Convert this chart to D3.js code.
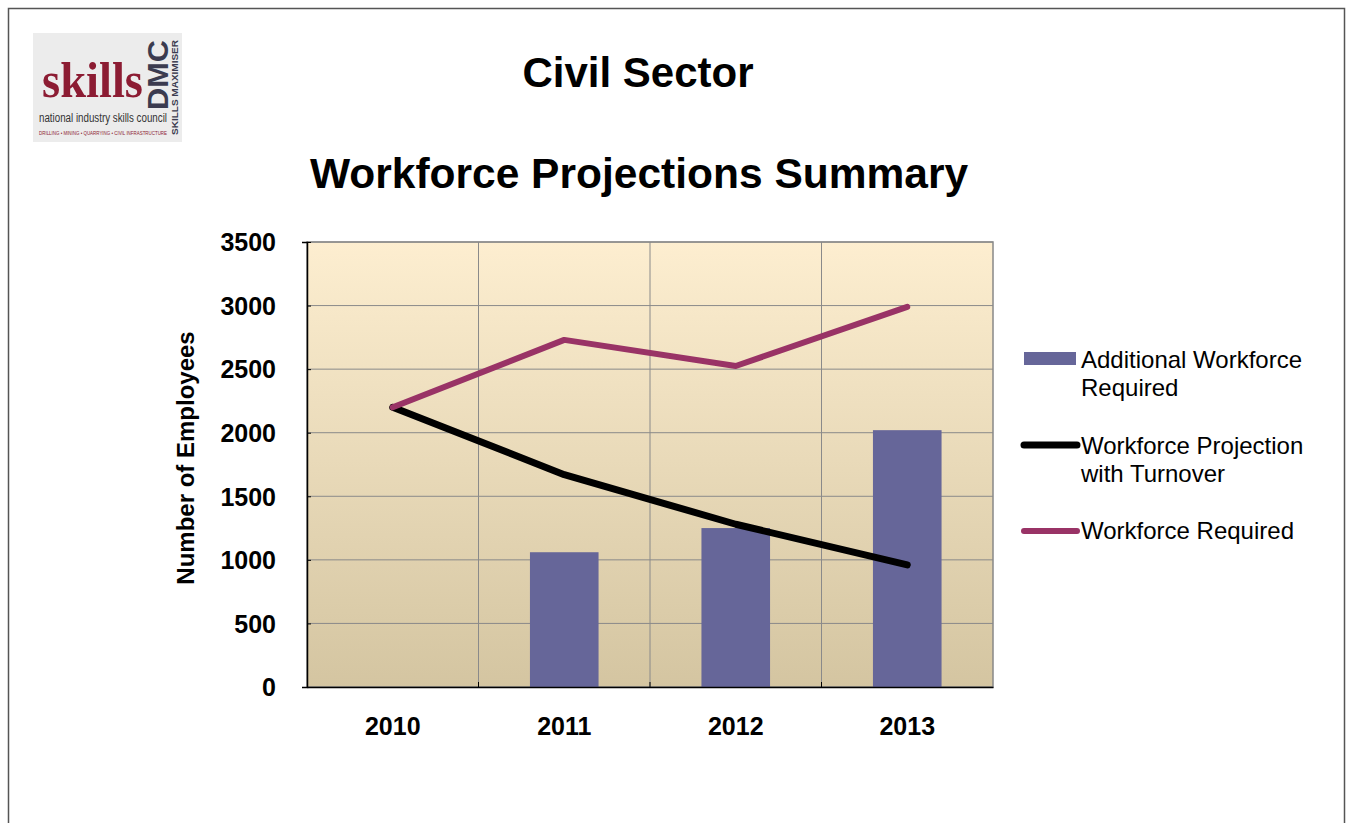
<!DOCTYPE html>
<html><head><meta charset="utf-8">
<script src="https://cdn.jsdelivr.net/npm/d3@7"></script>
<style>body{margin:0;background:#fff;}svg{display:block;font-family:Arial,"Liberation Sans",sans-serif;}</style>
</head><body>
<script>
const categories = ["2010","2011","2012","2013"];
const additionalRequired = [0, 1060, 1250, 2020];
const projectionTurnover = [2200, 1670, 1280, 960];
const workforceRequired = [2200, 2730, 2525, 2990];
const yTicks = [0,500,1000,1500,2000,2500,3000,3500];

const W=1346,H=823;
const svg=d3.select("body").append("svg").attr("width",W).attr("height",H);
svg.append("rect").attr("x",8.5).attr("y",8.5).attr("width",1336).attr("height",830).attr("fill","#fff").attr("stroke","#555").attr("stroke-width",1.5);

// logo
const lg=svg.append("g");
lg.append("rect").attr("x",33).attr("y",33).attr("width",149).attr("height",109).attr("fill","#ececec");
lg.append("text").attr("x",42).attr("y",97).attr("font-family","'Liberation Serif',serif").attr("font-weight","bold").attr("font-size",50).attr("fill","#8c1c33").attr("textLength",101).attr("lengthAdjust","spacingAndGlyphs").text("skills");
lg.append("text").attr("transform","translate(168,110) rotate(-90)").attr("font-family","'Liberation Sans Narrow',Arial,sans-serif").attr("font-weight","bold").attr("font-size",29).attr("fill","#3b3b4f").attr("textLength",70).attr("lengthAdjust","spacingAndGlyphs").text("DMC");
lg.append("text").attr("transform","translate(177.5,135) rotate(-90)").attr("font-weight","bold").attr("font-size",9).attr("fill","#3b3b4f").attr("textLength",95).attr("lengthAdjust","spacingAndGlyphs").text("SKILLS MAXIMISER");
lg.append("text").attr("x",39).attr("y",122).attr("font-family","'Liberation Sans Narrow',Arial,sans-serif").attr("font-size",12.5).attr("fill","#333").attr("textLength",128).attr("lengthAdjust","spacingAndGlyphs").text("national industry skills council");
lg.append("text").attr("x",39).attr("y",135).attr("font-size",5).attr("fill","#8c1c33").attr("textLength",128).attr("lengthAdjust","spacingAndGlyphs").text("DRILLING • MINING • QUARRYING • CIVIL INFRASTRUCTURE");

// titles
svg.append("text").attr("x",638).attr("y",87).attr("text-anchor","middle").attr("font-weight","bold").attr("font-size",42).attr("fill","#000").text("Civil Sector");
svg.append("text").attr("x",639).attr("y",188).attr("text-anchor","middle").attr("font-weight","bold").attr("font-size",42.5).attr("fill","#000").text("Workforce Projections Summary");

const L=307,R=993,T=242,B=687;
const x=d3.scaleBand().domain(categories).range([L,R]);
const y=d3.scaleLinear().domain([0,3500]).range([B,T]);

const defs=svg.append("defs");
const gr=defs.append("linearGradient").attr("id","bg").attr("x1",0).attr("y1",0).attr("x2",0).attr("y2",1);
gr.append("stop").attr("offset","0%").attr("stop-color","#fdeed0");
gr.append("stop").attr("offset","100%").attr("stop-color","#d4c5a1");
svg.append("rect").attr("x",L).attr("y",T).attr("width",R-L).attr("height",B-T).attr("fill","url(#bg)");

// gridlines
svg.append("g").selectAll("line").data(yTicks.slice(1)).join("line")
  .attr("x1",L).attr("x2",R).attr("y1",d=>y(d)).attr("y2",d=>y(d)).attr("stroke","#8a8a8a").attr("stroke-width",1);
svg.append("g").selectAll("line").data(categories.slice(1)).join("line")
  .attr("x1",d=>x(d)).attr("x2",d=>x(d)).attr("y1",T).attr("y2",B).attr("stroke","#8a8a8a").attr("stroke-width",1);
svg.append("rect").attr("x",L).attr("y",T).attr("width",R-L).attr("height",B-T).attr("fill","none").attr("stroke","#888").attr("stroke-width",1.5);

// bars
const bw=x.bandwidth()*0.4;
svg.append("g").selectAll("rect").data(categories.map((c,i)=>({c,v:additionalRequired[i]}))).join("rect")
  .attr("x",d=>x(d.c)+x.bandwidth()/2-bw/2).attr("width",bw).attr("y",d=>y(d.v)).attr("height",d=>B-y(d.v)).attr("fill","#666699");

// axes
const yAxis=svg.append("g").attr("transform",`translate(${L},0)`).call(d3.axisLeft(y).tickValues(yTicks).tickSize(5).tickPadding(26).tickFormat(d3.format("d")));
yAxis.select(".domain").attr("stroke","#000").attr("stroke-width",1.5);
yAxis.selectAll(".tick line").attr("stroke","#000").attr("x2",4).attr("x1",0);
yAxis.selectAll("text").attr("font-size",25).attr("font-weight","bold").attr("font-family","Arial,'Liberation Sans',sans-serif").attr("fill","#000").attr("dy","0.35em");

const xAxis=svg.append("g").attr("transform",`translate(0,${B})`).call(d3.axisBottom(x).tickSize(0).tickPadding(30));
xAxis.select(".domain").attr("stroke","#000").attr("stroke-width",1.5);
xAxis.selectAll("text").attr("font-size",25).attr("font-weight","bold").attr("font-family","Arial,'Liberation Sans',sans-serif").attr("fill","#000");
svg.append("g").selectAll("line").data(categories.slice(1)).join("line")
  .attr("x1",d=>x(d)).attr("x2",d=>x(d)).attr("y1",B-5).attr("y2",B).attr("stroke","#000");

svg.append("text").attr("transform",`translate(194,458) rotate(-90)`).attr("text-anchor","middle").attr("font-weight","bold").attr("font-size",24).text("Number of Employees");

// lines
const line=d3.line().x((d,i)=>x(categories[i])+x.bandwidth()/2).y(d=>y(d));
svg.append("path").datum(projectionTurnover).attr("d",line).attr("fill","none").attr("stroke","#000").attr("stroke-width",7).attr("stroke-linecap","round").attr("stroke-linejoin","round");
svg.append("path").datum(workforceRequired).attr("d",line).attr("fill","none").attr("stroke","#993366").attr("stroke-width",6).attr("stroke-linecap","round").attr("stroke-linejoin","round");

// legend
const lgd=svg.append("g").attr("font-size",24).attr("fill","#000");
lgd.append("rect").attr("x",1024).attr("y",352).attr("width",52).attr("height",13).attr("fill","#666699");
lgd.append("text").attr("x",1081).attr("y",368).text("Additional Workforce");
lgd.append("text").attr("x",1081).attr("y",396).text("Required");
lgd.append("line").attr("x1",1024).attr("x2",1077).attr("y1",445).attr("y2",445).attr("stroke","#000").attr("stroke-width",7).attr("stroke-linecap","round");
lgd.append("text").attr("x",1081).attr("y",454).text("Workforce Projection");
lgd.append("text").attr("x",1081).attr("y",482).text("with Turnover");
lgd.append("line").attr("x1",1024).attr("x2",1077).attr("y1",531).attr("y2",531).attr("stroke","#993366").attr("stroke-width",6).attr("stroke-linecap","round");
lgd.append("text").attr("x",1081).attr("y",539).text("Workforce Required");
</script>
</body></html>
